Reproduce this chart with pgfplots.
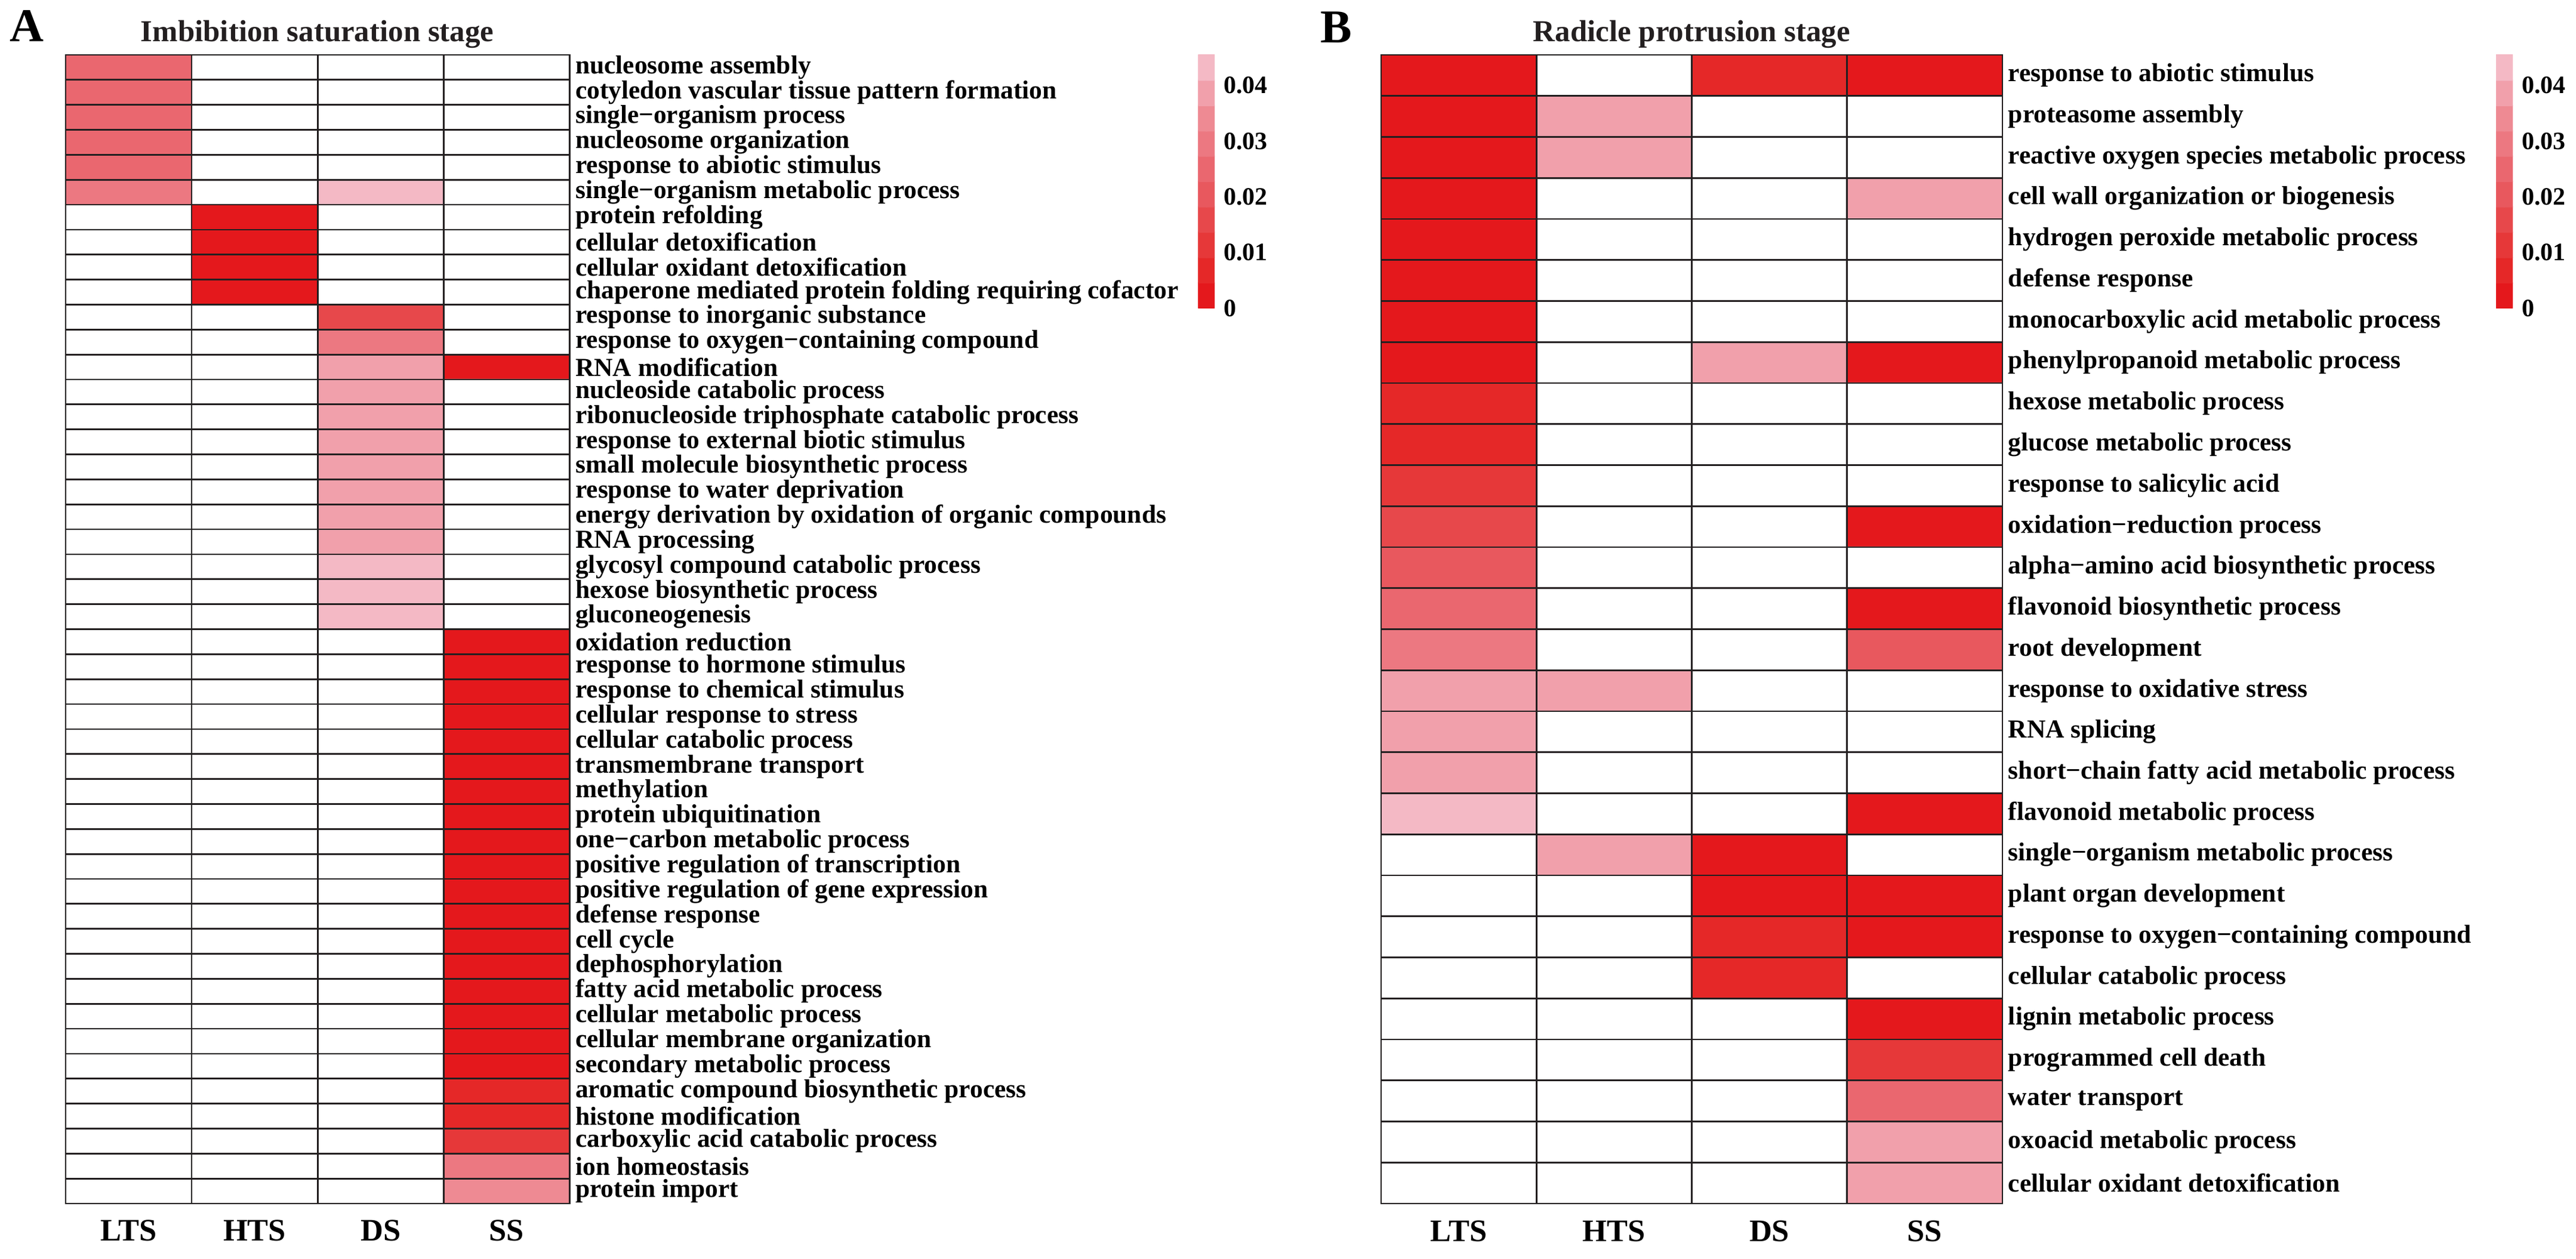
\documentclass[border=0pt]{standalone}
\usepackage{pgfplots}
\pgfplotsset{compat=1.18}
\usepackage{fontspec}
\setmainfont{Liberation Serif}

\definecolor{gridc}{RGB}{35,31,32}

% 10 bins of 0.00455 from 0 to 0.0455, an 11th bin (white) for empty cells
\pgfplotsset{
  colormap={pvals}{
    rgb255=(228,24,28) rgb255=(229,40,40) rgb255=(230,56,57) rgb255=(231,72,75)
    rgb255=(232,88,94) rgb255=(234,103,111) rgb255=(236,120,129) rgb255=(238,138,147)
    rgb255=(241,160,171) rgb255=(244,185,197) rgb255=(255,255,255)
  },
  pmap/.style={
    colormap name=pvals, colormap access=piecewise constant,
    point meta min=0, point meta max=0.05005,
  },
  heat/.style={
    pmap, scale only axis, enlargelimits=false, axis on top, y dir=reverse,
    xmin=-0.5, xmax=3.5, xtick={0,1,2,3}, xticklabels={LTS,HTS,DS,SS},
    minor xtick={-0.5,0.5,1.5,2.5,3.5},
    grid=minor, minor grid style={gridc, line width=0.55pt},
    major tick length=0pt, minor tick length=0pt,
    axis line style={gridc, line width=0.55pt},
    yticklabel pos=right,
    yticklabel style={font=\fontsize{8.7}{9}\selectfont\bfseries, anchor=west, inner xsep=0pt, xshift=1.8pt},
    xticklabel style={font=\fontsize{10.5}{11}\selectfont\bfseries, anchor=base, yshift=-12.6pt},
  },
  cbar/.style={
    pmap, scale only axis, width=5.6pt, height=85pt, enlargelimits=false,
    xmin=-0.5, xmax=1.5, ymin=0, ymax=0.0455,
    axis line style={draw=none}, xtick=\empty,
    ytick={0,0.01,0.02,0.03,0.04}, yticklabels={0,0.01,0.02,0.03,0.04},
    scaled y ticks=false, yticklabel pos=right, major tick length=0pt,
    yticklabel style={font=\fontsize{8.4}{9}\selectfont\bfseries, anchor=west, inner xsep=0pt, xshift=2.8pt},
  },
}

\begin{document}
\begin{tikzpicture}
\path (0pt,0pt) rectangle (863.2pt,-422.4pt);

% ---------- A: imbibition saturation stage ----------
\begin{axis}[heat, at={(21.2pt,-18.4pt)}, anchor=north west,
  width=169pt, height=385.4pt,
  ymin=-0.5, ymax=45.5, ytick={0,...,45}, minor ytick={-0.5,0.5,...,45.5},
  yticklabels={nucleosome assembly, cotyledon vascular tissue pattern formation,
    single−organism process, nucleosome organization, response to abiotic stimulus,
    single−organism metabolic process, protein refolding, cellular detoxification,
    cellular oxidant detoxification, chaperone mediated protein folding requiring cofactor,
    response to inorganic substance, response to oxygen−containing compound,
    RNA modification, nucleoside catabolic process,
    ribonucleoside triphosphate catabolic process, response to external biotic stimulus,
    small molecule biosynthetic process, response to water deprivation,
    energy derivation by oxidation of organic compounds, RNA processing,
    glycosyl compound catabolic process, hexose biosynthetic process, gluconeogenesis,
    oxidation reduction, response to hormone stimulus, response to chemical stimulus,
    cellular response to stress, cellular catabolic process, transmembrane transport,
    methylation, protein ubiquitination, one−carbon metabolic process,
    positive regulation of transcription, positive regulation of gene expression,
    defense response, cell cycle, dephosphorylation, fatty acid metabolic process,
    cellular metabolic process, cellular membrane organization,
    secondary metabolic process, aromatic compound biosynthetic process,
    histone modification, carboxylic acid catabolic process, ion homeostasis,
    protein import},
]
\addplot[matrix plot*, mesh/cols=4, point meta=explicit] coordinates {
(0,0)[0.025] (1,0)[0.05] (2,0)[0.05] (3,0)[0.05]
(0,1)[0.025] (1,1)[0.05] (2,1)[0.05] (3,1)[0.05]
(0,2)[0.025] (1,2)[0.05] (2,2)[0.05] (3,2)[0.05]
(0,3)[0.025] (1,3)[0.05] (2,3)[0.05] (3,3)[0.05]
(0,4)[0.025] (1,4)[0.05] (2,4)[0.05] (3,4)[0.05]
(0,5)[0.0296] (1,5)[0.05] (2,5)[0.0432] (3,5)[0.05]
(0,6)[0.05] (1,6)[0.001] (2,6)[0.05] (3,6)[0.05]
(0,7)[0.05] (1,7)[0.001] (2,7)[0.05] (3,7)[0.05]
(0,8)[0.05] (1,8)[0.001] (2,8)[0.05] (3,8)[0.05]
(0,9)[0.05] (1,9)[0.001] (2,9)[0.05] (3,9)[0.05]
(0,10)[0.05] (1,10)[0.05] (2,10)[0.0159] (3,10)[0.05]
(0,11)[0.05] (1,11)[0.05] (2,11)[0.0296] (3,11)[0.05]
(0,12)[0.05] (1,12)[0.05] (2,12)[0.0387] (3,12)[0.001]
(0,13)[0.05] (1,13)[0.05] (2,13)[0.0387] (3,13)[0.05]
(0,14)[0.05] (1,14)[0.05] (2,14)[0.0387] (3,14)[0.05]
(0,15)[0.05] (1,15)[0.05] (2,15)[0.0387] (3,15)[0.05]
(0,16)[0.05] (1,16)[0.05] (2,16)[0.0387] (3,16)[0.05]
(0,17)[0.05] (1,17)[0.05] (2,17)[0.0387] (3,17)[0.05]
(0,18)[0.05] (1,18)[0.05] (2,18)[0.0387] (3,18)[0.05]
(0,19)[0.05] (1,19)[0.05] (2,19)[0.0387] (3,19)[0.05]
(0,20)[0.05] (1,20)[0.05] (2,20)[0.0432] (3,20)[0.05]
(0,21)[0.05] (1,21)[0.05] (2,21)[0.0432] (3,21)[0.05]
(0,22)[0.05] (1,22)[0.05] (2,22)[0.0432] (3,22)[0.05]
(0,23)[0.05] (1,23)[0.05] (2,23)[0.05] (3,23)[0.001]
(0,24)[0.05] (1,24)[0.05] (2,24)[0.05] (3,24)[0.001]
(0,25)[0.05] (1,25)[0.05] (2,25)[0.05] (3,25)[0.001]
(0,26)[0.05] (1,26)[0.05] (2,26)[0.05] (3,26)[0.001]
(0,27)[0.05] (1,27)[0.05] (2,27)[0.05] (3,27)[0.001]
(0,28)[0.05] (1,28)[0.05] (2,28)[0.05] (3,28)[0.001]
(0,29)[0.05] (1,29)[0.05] (2,29)[0.05] (3,29)[0.001]
(0,30)[0.05] (1,30)[0.05] (2,30)[0.05] (3,30)[0.001]
(0,31)[0.05] (1,31)[0.05] (2,31)[0.05] (3,31)[0.001]
(0,32)[0.05] (1,32)[0.05] (2,32)[0.05] (3,32)[0.001]
(0,33)[0.05] (1,33)[0.05] (2,33)[0.05] (3,33)[0.001]
(0,34)[0.05] (1,34)[0.05] (2,34)[0.05] (3,34)[0.001]
(0,35)[0.05] (1,35)[0.05] (2,35)[0.05] (3,35)[0.001]
(0,36)[0.05] (1,36)[0.05] (2,36)[0.05] (3,36)[0.001]
(0,37)[0.05] (1,37)[0.05] (2,37)[0.05] (3,37)[0.001]
(0,38)[0.05] (1,38)[0.05] (2,38)[0.05] (3,38)[0.001]
(0,39)[0.05] (1,39)[0.05] (2,39)[0.05] (3,39)[0.001]
(0,40)[0.05] (1,40)[0.05] (2,40)[0.05] (3,40)[0.001]
(0,41)[0.05] (1,41)[0.05] (2,41)[0.05] (3,41)[0.0068]
(0,42)[0.05] (1,42)[0.05] (2,42)[0.05] (3,42)[0.0068]
(0,43)[0.05] (1,43)[0.05] (2,43)[0.05] (3,43)[0.0114]
(0,44)[0.05] (1,44)[0.05] (2,44)[0.05] (3,44)[0.0296]
(0,45)[0.05] (1,45)[0.05] (2,45)[0.05] (3,45)[0.0341]
};
\end{axis}

\begin{axis}[cbar, at={(401pt,-18.4pt)}, anchor=north west]
\addplot[matrix plot*, mesh/cols=2, point meta=explicit] coordinates {
(0,0.002275)[0.002275] (1,0.002275)[0.002275]
(0,0.006825)[0.006825] (1,0.006825)[0.006825]
(0,0.011375)[0.011375] (1,0.011375)[0.011375]
(0,0.015925)[0.015925] (1,0.015925)[0.015925]
(0,0.020475)[0.020475] (1,0.020475)[0.020475]
(0,0.025025)[0.025025] (1,0.025025)[0.025025]
(0,0.029575)[0.029575] (1,0.029575)[0.029575]
(0,0.034125)[0.034125] (1,0.034125)[0.034125]
(0,0.038675)[0.038675] (1,0.038675)[0.038675]
(0,0.043225)[0.043225] (1,0.043225)[0.043225]
};
\end{axis}

% ---------- B: radicle protrusion stage ----------
\begin{axis}[heat, at={(462.4pt,-18.4pt)}, anchor=north west,
  width=208.4pt, height=385.4pt,
  ymin=-0.5, ymax=27.5, ytick={0,...,27}, minor ytick={-0.5,0.5,...,27.5},
  yticklabels={response to abiotic stimulus, proteasome assembly,
    reactive oxygen species metabolic process, cell wall organization or biogenesis,
    hydrogen peroxide metabolic process, defense response,
    monocarboxylic acid metabolic process, phenylpropanoid metabolic process,
    hexose metabolic process, glucose metabolic process, response to salicylic acid,
    oxidation−reduction process, alpha−amino acid biosynthetic process,
    flavonoid biosynthetic process, root development, response to oxidative stress,
    RNA splicing, short−chain fatty acid metabolic process, flavonoid metabolic process,
    single−organism metabolic process, plant organ development,
    response to oxygen−containing compound, cellular catabolic process,
    lignin metabolic process, programmed cell death, water transport,
    oxoacid metabolic process, cellular oxidant detoxification},
]
\addplot[matrix plot*, mesh/cols=4, point meta=explicit] coordinates {
(0,0)[0.001] (1,0)[0.05] (2,0)[0.0068] (3,0)[0.001]
(0,1)[0.001] (1,1)[0.0387] (2,1)[0.05] (3,1)[0.05]
(0,2)[0.001] (1,2)[0.0387] (2,2)[0.05] (3,2)[0.05]
(0,3)[0.001] (1,3)[0.05] (2,3)[0.05] (3,3)[0.0387]
(0,4)[0.001] (1,4)[0.05] (2,4)[0.05] (3,4)[0.05]
(0,5)[0.001] (1,5)[0.05] (2,5)[0.05] (3,5)[0.05]
(0,6)[0.001] (1,6)[0.05] (2,6)[0.05] (3,6)[0.05]
(0,7)[0.001] (1,7)[0.05] (2,7)[0.0387] (3,7)[0.001]
(0,8)[0.0068] (1,8)[0.05] (2,8)[0.05] (3,8)[0.05]
(0,9)[0.0068] (1,9)[0.05] (2,9)[0.05] (3,9)[0.05]
(0,10)[0.0114] (1,10)[0.05] (2,10)[0.05] (3,10)[0.05]
(0,11)[0.0159] (1,11)[0.05] (2,11)[0.05] (3,11)[0.001]
(0,12)[0.0205] (1,12)[0.05] (2,12)[0.05] (3,12)[0.05]
(0,13)[0.025] (1,13)[0.05] (2,13)[0.05] (3,13)[0.001]
(0,14)[0.0296] (1,14)[0.05] (2,14)[0.05] (3,14)[0.0205]
(0,15)[0.0387] (1,15)[0.0387] (2,15)[0.05] (3,15)[0.05]
(0,16)[0.0387] (1,16)[0.05] (2,16)[0.05] (3,16)[0.05]
(0,17)[0.0387] (1,17)[0.05] (2,17)[0.05] (3,17)[0.05]
(0,18)[0.0432] (1,18)[0.05] (2,18)[0.05] (3,18)[0.001]
(0,19)[0.05] (1,19)[0.0387] (2,19)[0.001] (3,19)[0.05]
(0,20)[0.05] (1,20)[0.05] (2,20)[0.001] (3,20)[0.001]
(0,21)[0.05] (1,21)[0.05] (2,21)[0.0068] (3,21)[0.001]
(0,22)[0.05] (1,22)[0.05] (2,22)[0.0068] (3,22)[0.05]
(0,23)[0.05] (1,23)[0.05] (2,23)[0.05] (3,23)[0.001]
(0,24)[0.05] (1,24)[0.05] (2,24)[0.05] (3,24)[0.0114]
(0,25)[0.05] (1,25)[0.05] (2,25)[0.05] (3,25)[0.025]
(0,26)[0.05] (1,26)[0.05] (2,26)[0.05] (3,26)[0.0387]
(0,27)[0.05] (1,27)[0.05] (2,27)[0.05] (3,27)[0.0387]
};
\end{axis}

\begin{axis}[cbar, at={(836.4pt,-18.4pt)}, anchor=north west]
\addplot[matrix plot*, mesh/cols=2, point meta=explicit] coordinates {
(0,0.002275)[0.002275] (1,0.002275)[0.002275]
(0,0.006825)[0.006825] (1,0.006825)[0.006825]
(0,0.011375)[0.011375] (1,0.011375)[0.011375]
(0,0.015925)[0.015925] (1,0.015925)[0.015925]
(0,0.020475)[0.020475] (1,0.020475)[0.020475]
(0,0.025025)[0.025025] (1,0.025025)[0.025025]
(0,0.029575)[0.029575] (1,0.029575)[0.029575]
(0,0.034125)[0.034125] (1,0.034125)[0.034125]
(0,0.038675)[0.038675] (1,0.038675)[0.038675]
(0,0.043225)[0.043225] (1,0.043225)[0.043225]
};
\end{axis}

% panel letters and titles
\node[font=\fontsize{15.8}{16}\selectfont\bfseries, anchor=base] at (8.2pt,-14pt) {A};
\node[font=\fontsize{15.8}{16}\selectfont\bfseries, anchor=base] at (447.4pt,-14.4pt) {B};
\node[font=\fontsize{10.2}{12}\selectfont\bfseries, anchor=base, text=gridc] at (105.6pt,-14pt) {Imbibition saturation stage};
\node[font=\fontsize{10.2}{12}\selectfont\bfseries, anchor=base, text=gridc] at (566.6pt,-14pt) {Radicle protrusion stage};
\end{tikzpicture}
\end{document}
